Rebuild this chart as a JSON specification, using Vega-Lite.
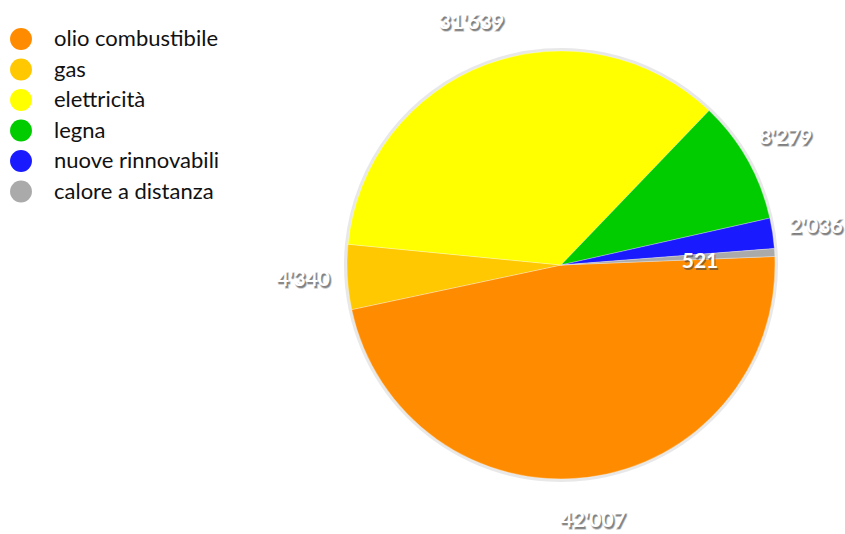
{
  "$schema": "https://vega.github.io/schema/vega-lite/v6.json",
  "width": 568,
  "height": 530,
  "autosize": {"type": "none"},
  "padding": {"left": 277, "top": 0, "right": 0, "bottom": 4},
  "background": "white",
  "config": {
    "view": {"stroke": null},
    "locale": {"number": {"decimal": ".", "thousands": "'", "grouping": [3], "currency": ["", ""]}}
  },
  "data": {
    "values": [
      {"fonte": "olio combustibile", "valore": 42007, "ordine": 1},
      {"fonte": "gas", "valore": 4340, "ordine": 2},
      {"fonte": "elettricità", "valore": 31639, "ordine": 3},
      {"fonte": "legna", "valore": 8279, "ordine": 4},
      {"fonte": "nuove rinnovabili", "valore": 2036, "ordine": 5},
      {"fonte": "calore a distanza", "valore": 521, "ordine": 6}
    ]
  },
  "encoding": {
    "theta": {"field": "valore", "type": "quantitative", "stack": true, "scale": {"range": [1.531, 7.814]}},
    "order": {"field": "ordine", "type": "quantitative"}
  },
  "layer": [
    {
      "mark": {"type": "arc", "radius": 217, "color": "#d8d8d8", "opacity": 0.6},
      "encoding": {}
    },
    {
      "mark": {"type": "arc", "radius": 214, "stroke": "#ffffff", "strokeWidth": 0.6, "strokeOpacity": 0.5},
      "encoding": {
        "color": {
          "field": "fonte",
          "type": "nominal",
          "sort": ["olio combustibile", "gas", "elettricità", "legna", "nuove rinnovabili", "calore a distanza"],
          "scale": {
            "domain": ["olio combustibile", "gas", "elettricità", "legna", "nuove rinnovabili", "calore a distanza"],
            "range": ["#ff8c00", "#ffc800", "#ffff00", "#00cc00", "#1a1aff", "#aaaaaa"]
          },
          "legend": {
            "orient": "none",
            "legendX": -267,
            "legendY": 28,
            "title": null,
            "symbolType": "circle",
            "symbolSize": 480,
            "symbolStrokeWidth": 0,
            "labelFont": "Lato",
            "labelFontSize": 22,
            "labelColor": "#111111",
            "labelOffset": 22,
            "rowPadding": 8.5,
            "labelLimit": 300
          }
        }
      }
    },
    {
      "transform": [{"filter": "datum.valore >= 1000"}],
      "mark": {"type": "text", "radius": 258, "font": "Lato", "fontSize": 21, "fontWeight": "bold", "fill": "#444444", "opacity": 0.7, "dx": 1.5, "dy": 2, "stroke": "#777777", "strokeWidth": 1.5, "strokeOpacity": 0.5},
      "encoding": {"text": {"field": "valore", "type": "quantitative", "format": ",d"}}
    },
    {
      "transform": [{"filter": "datum.valore >= 1000"}],
      "mark": {"type": "text", "radius": 258, "font": "Lato", "fontSize": 21, "fontWeight": "bold", "fill": "#ffffff"},
      "encoding": {"text": {"field": "valore", "type": "quantitative", "format": ",d"}}
    },
    {
      "transform": [{"filter": "datum.valore < 1000"}],
      "mark": {"type": "text", "radius": 139, "font": "Lato", "fontSize": 21, "fontWeight": "bold", "fill": "#444444", "opacity": 0.6, "dx": 1, "dy": 1.5},
      "encoding": {"text": {"field": "valore", "type": "quantitative", "format": ",d"}}
    },
    {
      "transform": [{"filter": "datum.valore < 1000"}],
      "mark": {"type": "text", "radius": 139, "font": "Lato", "fontSize": 21, "fontWeight": "bold", "fill": "#ffffff"},
      "encoding": {"text": {"field": "valore", "type": "quantitative", "format": ",d"}}
    }
  ]
}
